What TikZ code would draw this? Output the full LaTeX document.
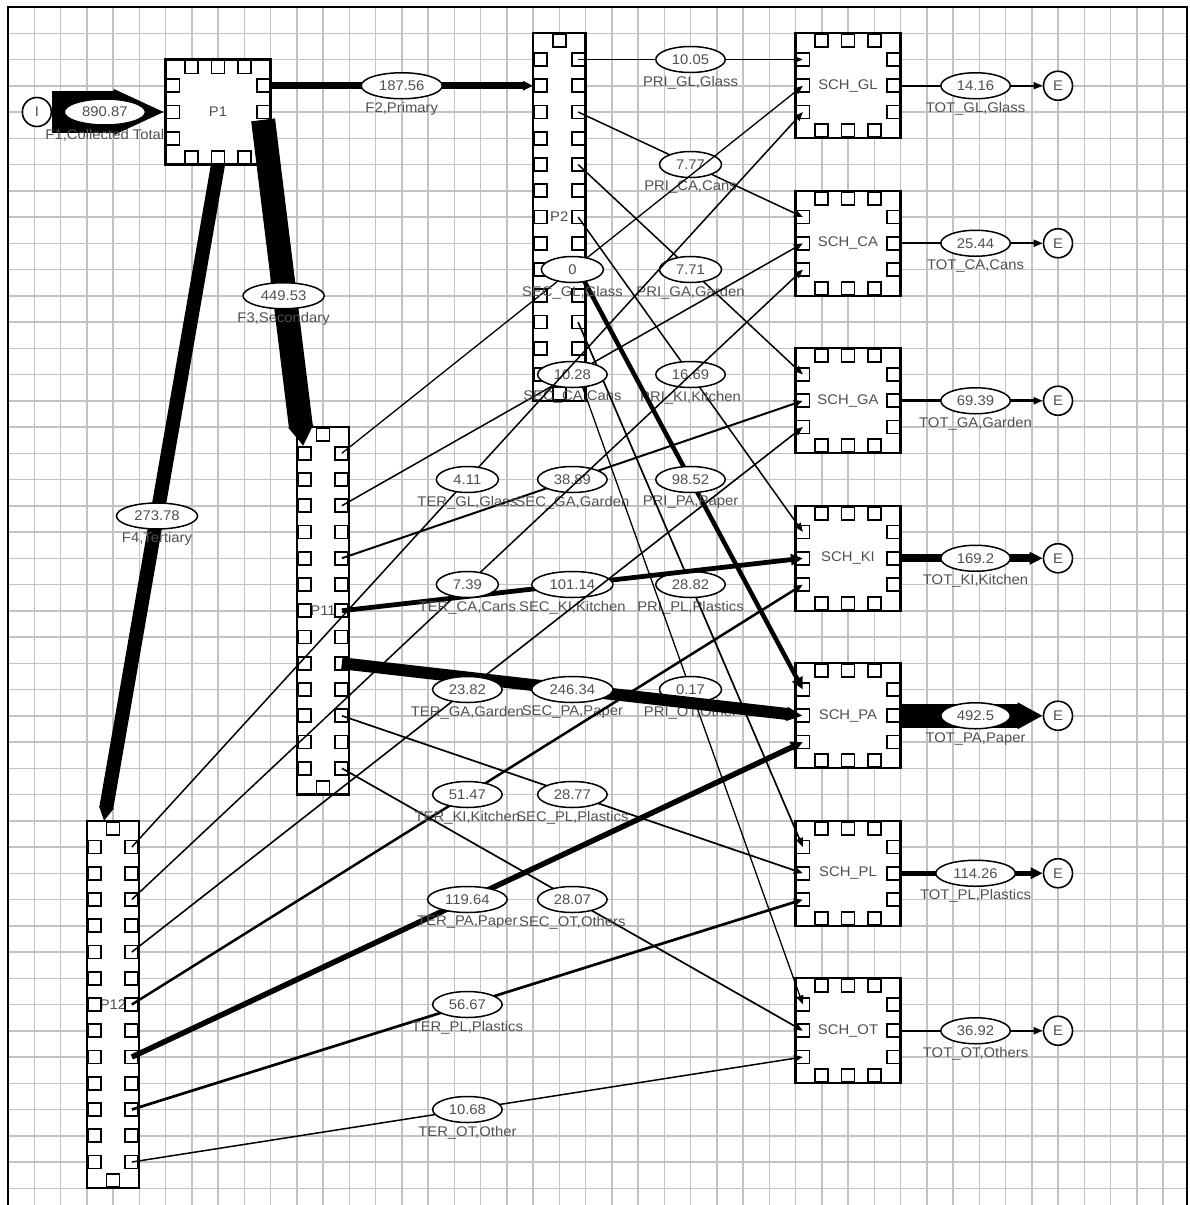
\documentclass[tikz,border=0pt]{standalone}
\usepackage{fontspec}
\setmainfont[FakeStretch=1.06]{Liberation Sans}
\usetikzlibrary{calc,arrows.meta,shapes.geometric}
\definecolor{gridgray}{RGB}{195,195,195}
\definecolor{txtgray}{RGB}{80,80,80}
\newcommand\lblfont{\fontsize{14pt}{16pt}\selectfont}
% straight flow between two port centres, cut where it leaves/enters the boxes
\newcommand\flowline[3]{%
  \draw[#1] let \p1=(#2), \p2=(#3), \n1={6.5/(\x2-\x1)} in
    ($(#2)!\n1!(#3)$) -- ($(#3)!\n1!(#2)$);}
% value ellipse at the middle of a flow, flow name underneath
\newcommand\flowlabel[5]{%
  \node[value] (#1) at ($(#2)!0.5!(#3)$) {#4};
  \node[fname] at ($(#1)+(0,0.876)$) {#5};}
\begin{document}
\begin{tikzpicture}[x=26.25pt,y=-26.25pt,
  gridline/.style={draw=gridgray,line width=1.5pt},
  frame/.style={line width=2.5pt},
  proc/.style={draw,fill=white,line width=2.2pt,inner sep=0pt,text=txtgray,font=\lblfont},
  sqproc/.style={proc,minimum width=105pt,minimum height=105pt},
  tallproc/.style={proc,minimum width=52.5pt,minimum height=367.5pt},
  port/.style={draw,fill=white,line width=1.8pt,minimum size=13pt,inner sep=0pt},
  term/.style={circle,draw,fill=white,line width=1.6pt,minimum size=29pt,inner sep=0pt,text=txtgray,font=\lblfont},
  value/.style={ellipse,draw,fill=white,line width=1.5pt,minimum width=62pt,minimum height=26pt,inner xsep=6pt,inner ysep=2pt,text=txtgray,font=\lblfont},
  fname/.style={text=txtgray,font=\lblfont,inner sep=0pt},
  fl/.style={line width=#1,-{Triangle[length=9pt,width=7pt]}},
  fl/.default=1.5pt,
  flm/.style={line width=#1,-{Triangle[length=12pt,width=11pt]}}]
\useasboundingbox (-0.30476,-0.26667) rectangle (45.02857,45.6381);

% background grid and frame
\foreach \i in {1,...,44} \draw[gridline] (\i,0) -- (\i,45.64);
\foreach \j in {1,...,45} \draw[gridline] (0,\j) -- (44.91,\j);
\draw[frame] (0,45.64) -- (0,0) -- (44.91,0) -- (44.91,45.64);

% processes
\node[sqproc] (P1) at (8,4) {P1};
\node[tallproc] (P2) at (21,8) {P2};
\node[tallproc] (P11) at (12,23) {P11};
\node[tallproc] (P12) at (4,38) {P12};
\foreach \b/\cy/\lab in {GL/3/SCH\_GL,CA/9/SCH\_CA,GA/15/SCH\_GA,KI/21/SCH\_KI,PA/27/SCH\_PA,PL/33/SCH\_PL,OT/39/SCH\_OT}
  \node[sqproc] (\b) at (32,\cy) {\lab};

% ports of the square processes
\foreach \b/\cx/\cy in {P1/8/4,GL/32/3,CA/32/9,GA/32/15,KI/32/21,PA/32/27,PL/32/33,OT/32/39}
  \foreach \k in {1,2,3} {
    \node[port,anchor=west] (\b-l\k) at ({\cx-2},{\cy-2+\k}) {};
    \node[port,anchor=east] (\b-r\k) at ({\cx+2},{\cy-2+\k}) {};
    \node[port,anchor=north] (\b-t\k) at ({\cx-2+\k},{\cy-2}) {};
    \node[port,anchor=south] (\b-b\k) at ({\cx-2+\k},{\cy+2}) {};
  }
% ports of the tall processes
\foreach \b/\cx/\top in {P2/21/1,P11/12/16,P12/4/31} {
  \foreach \k in {1,...,13} {
    \node[port,anchor=west] (\b-l\k) at ({\cx-1},{\top+\k}) {};
    \node[port,anchor=east] (\b-r\k) at ({\cx+1},{\top+\k}) {};
  }
  \node[port,anchor=north] (\b-t) at (\cx,\top) {};
  \node[port,anchor=south] (\b-b) at (\cx,{\top+14}) {};
}

% import and export terminals
\node[term] (I) at (1.1,4) {I};
\foreach \b/\cy in {GL/3,CA/9,GA/15,KI/21,PA/27,PL/33,OT/39}
  \node[term] (E-\b) at (40,\cy) {E};

% collection
\draw[line width=42pt,-{Triangle[length=52pt,width=42pt]}] (I) -- (P1-l2.west);
\flowlabel{v-F1}{I}{P1-l2}{890.87}{F1,Collected Total}
\draw[line width=7pt,-{Triangle[length=10pt,width=9pt]}] (P1-r1.east) -- (P2-l2.west);
\flowlabel{v-F2}{P1-r1}{P2-l2}{187.56}{F2,Primary}
\draw[line width=24pt,-{Triangle[length=20pt,width=24pt]}] ($(P1-r3)+(0,-0.7)$) -- (P11-l1);
\flowlabel{v-F3}{P1-r3}{P11-l1}{449.53}{F3,Secondary}
\coordinate (F4end) at (3.657,31.01);
\draw[line width=14pt,-{Triangle[length=14pt,width=14pt]}] (P1-b2.south) -- (F4end);
\node[value] (v-F4) at (5.676,19.39) {273.78};
\node[fname] at ($(v-F4)+(0,0.876)$) {F4,Tertiary};

% primary sorting
\flowline{fl}{P2-r1}{GL-l1}
\flowlabel{v-pgl}{P2-r1}{GL-l1}{10.05}{PRI\_GL,Glass}
\flowline{fl}{P2-r3}{CA-l1}
\flowlabel{v-pca}{P2-r3}{CA-l1}{7.77}{PRI\_CA,Cans}
\flowline{fl}{P2-r5}{GA-l1}
\flowlabel{v-pga}{P2-r5}{GA-l1}{7.71}{PRI\_GA,Garden}
\flowline{fl}{P2-r7}{KI-l1}
\flowlabel{v-pki}{P2-r7}{KI-l1}{16.69}{PRI\_KI,Kitchen}
\flowline{flm=4.5pt}{P2-r9}{PA-l1}
\flowlabel{v-ppa}{P2-r9}{PA-l1}{98.52}{PRI\_PA,Paper}
\flowline{fl=1.7pt}{P2-r11}{PL-l1}
\flowlabel{v-ppl}{P2-r11}{PL-l1}{28.82}{PRI\_PL,Plastics}
\flowline{fl=1.3pt}{P2-r13}{OT-l1}
\flowlabel{v-pot}{P2-r13}{OT-l1}{0.17}{PRI\_OT,Other}

% secondary sorting
\flowline{fl=1.3pt}{P11-r1}{GL-l2}
\flowlabel{v-sgl}{P11-r1}{GL-l2}{0}{SEC\_GL,Glass}
\flowline{fl}{P11-r3}{CA-l2}
\flowlabel{v-sca}{P11-r3}{CA-l2}{10.28}{SEC\_CA,Cans}
\flowline{fl=2pt}{P11-r5}{GA-l2}
\flowlabel{v-sga}{P11-r5}{GA-l2}{38.89}{SEC\_GA,Garden}
\flowline{flm=4.8pt}{P11-r7}{KI-l2}
\flowlabel{v-ski}{P11-r7}{KI-l2}{101.14}{SEC\_KI,Kitchen}
\flowline{line width=12pt,-{Triangle[length=16pt,width=13pt]}}{P11-r9}{PA-l2}
\flowlabel{v-spa}{P11-r9}{PA-l2}{246.34}{SEC\_PA,Paper}
\flowline{fl=1.7pt}{P11-r11}{PL-l2}
\flowlabel{v-spl}{P11-r11}{PL-l2}{28.77}{SEC\_PL,Plastics}
\flowline{fl=1.7pt}{P11-r13}{OT-l2}
\flowlabel{v-sot}{P11-r13}{OT-l2}{28.07}{SEC\_OT,Others}

% tertiary sorting
\flowline{fl}{P12-r1}{GL-l3}
\flowlabel{v-tgl}{P12-r1}{GL-l3}{4.11}{TER\_GL,Glass}
\flowline{fl}{P12-r3}{CA-l3}
\flowlabel{v-tca}{P12-r3}{CA-l3}{7.39}{TER\_CA,Cans}
\flowline{fl=1.6pt}{P12-r5}{GA-l3}
\flowlabel{v-tga}{P12-r5}{GA-l3}{23.82}{TER\_GA,Garden}
\flowline{fl=2.5pt}{P12-r7}{KI-l3}
\flowlabel{v-tki}{P12-r7}{KI-l3}{51.47}{TER\_KI,Kitchen}
\flowline{flm=5.5pt}{P12-r9}{PA-l3}
\flowlabel{v-tpa}{P12-r9}{PA-l3}{119.64}{TER\_PA,Paper}
\flowline{fl=2.7pt}{P12-r11}{PL-l3}
\flowlabel{v-tpl}{P12-r11}{PL-l3}{56.67}{TER\_PL,Plastics}
\flowline{fl}{P12-r13}{OT-l3}
\flowlabel{v-tot}{P12-r13}{OT-l3}{10.68}{TER\_OT,Other}

% totals leaving the system
\draw[fl=1.6pt] (GL-r2.east) -- (E-GL);
\flowlabel{v-egl}{GL-r2}{E-GL}{14.16}{TOT\_GL,Glass}
\draw[fl=1.9pt] (CA-r2.east) -- (E-CA);
\flowlabel{v-eca}{CA-r2}{E-CA}{25.44}{TOT\_CA,Cans}
\draw[fl=3.3pt] (GA-r2.east) -- (E-GA);
\flowlabel{v-ega}{GA-r2}{E-GA}{69.39}{TOT\_GA,Garden}
\draw[line width=8pt,-{Triangle[length=13pt,width=12pt]}] (KI-r2.east) -- (E-KI);
\flowlabel{v-eki}{KI-r2}{E-KI}{169.2}{TOT\_KI,Kitchen}
\draw[line width=24pt,-{Triangle[length=25pt,width=25pt]}] (PA-r2.east) -- (E-PA);
\flowlabel{v-epa}{PA-r2}{E-PA}{492.5}{TOT\_PA,Paper}
\draw[flm=5.3pt] (PL-r2.east) -- (E-PL);
\flowlabel{v-epl}{PL-r2}{E-PL}{114.26}{TOT\_PL,Plastics}
\draw[fl=2pt] (OT-r2.east) -- (E-OT);
\flowlabel{v-eot}{OT-r2}{E-OT}{36.92}{TOT\_OT,Others}
\end{tikzpicture}
\end{document}
